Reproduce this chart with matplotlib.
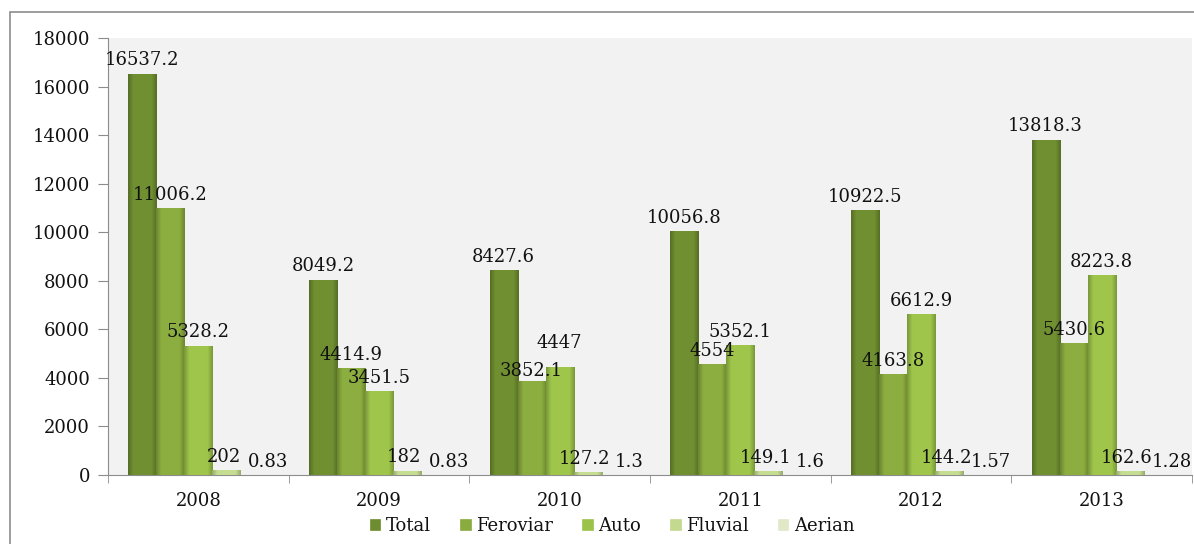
import numpy as np
import matplotlib
matplotlib.use("Agg")
import matplotlib.pyplot as plt
from matplotlib.colors import to_rgb
from matplotlib.patches import Rectangle

years = ["2008", "2009", "2010", "2011", "2012", "2013"]
series = ["Total", "Feroviar", "Auto", "Fluvial", "Aerian"]
total = [16537.2, 8049.2, 8427.6, 10056.8, 10922.5, 13818.3]
feroviar = [11006.2, 4414.9, 3852.1, 4554, 4163.8, 5430.6]
auto = [5328.2, 3451.5, 4447, 5352.1, 6612.9, 8223.8]
fluvial = [202, 182, 127.2, 149.1, 144.2, 162.6]
aerian = [0.83, 0.83, 1.3, 1.6, 1.57, 1.28]
labels = ["16537.2", "8049.2", "8427.6", "10056.8", "10922.5", "13818.3"], \
         ["11006.2", "4414.9", "3852.1", "4554", "4163.8", "5430.6"], \
         ["5328.2", "3451.5", "4447", "5352.1", "6612.9", "8223.8"], \
         ["202", "182", "127.2", "149.1", "144.2", "162.6"], \
         ["0.83", "0.83", "1.3", "1.6", "1.57", "1.28"]

colors = ["#6e8d30", "#8aab3f", "#9cc24a", "#c2d98e", "#dfe9c8"]
label_dx = [0, 0, 0, -2, 10]
# the 2010 Auto label is pushed up a bit so it clears the Feroviar one
label_dy = {(2, 2): 8, (1, 2): -2}

plt.rcParams['font.family'] = ['DejaVu Serif']

fig = plt.figure(figsize=(11.94, 5.44), dpi=100)
fig.patches.append(Rectangle((10 / 1194, -0.1), 1.2, 1.1 - 12 / 544,
                             transform=fig.transFigure, fill=False,
                             edgecolor="#8c8c8c", linewidth=1.2))
ax = fig.add_axes([108 / 1194, 69 / 544, 1084 / 1194, 437 / 544])
ax.set_facecolor("#f2f2f2")


def gradient_bar(ax, bar, color):
    # flat fill with darker edges on both sides, like the excel bevel
    c = np.array(to_rgb(color))
    t = np.linspace(0, 1, 64)
    edge = np.minimum(t, 1 - t)
    shade = 0.78 + 0.24 * np.clip(edge / 0.18, 0, 1)
    row = np.clip(c[None, :] * shade[:, None], 0, 1)
    img = np.repeat(row[None, :, :], 2, axis=0)
    x0, y0 = bar.get_x(), bar.get_y()
    w, h = bar.get_width(), bar.get_height()
    im = ax.imshow(img, extent=[x0, x0 + w, y0, y0 + h], aspect="auto",
                   origin="lower", zorder=3, interpolation="bilinear")
    im.set_clip_path(bar)


x = np.arange(len(years))
w = 0.155
data = [total, feroviar, auto, fluvial, aerian]
for i, (name, vals) in enumerate(zip(series, data)):
    bars = ax.bar(x + (i - 2) * w, vals, w, color=colors[i], label=name,
                  edgecolor=colors[i], linewidth=0.5, zorder=2)
    for j, (b, lab) in enumerate(zip(bars, labels[i])):
        gradient_bar(ax, b, colors[i])
        ax.annotate(lab, (b.get_x() + b.get_width() / 2, b.get_height()),
                    xytext=(label_dx[i], 3 + label_dy.get((i, j), 0)),
                    textcoords="offset points",
                    ha="center", va="bottom", fontsize=13, color="#111111",
                    zorder=5)

ax.set_xlim(-0.5, len(years) - 0.5)
ax.set_ylim(0, 18000)
ax.set_yticks(range(0, 18001, 2000))
ax.set_xticks(x)
ax.set_xticklabels(years, fontsize=13)
ax.set_xticks(np.arange(-0.5, len(years)), minor=True)
ax.tick_params(axis="x", which="major", length=0, pad=12, labelcolor="#111111")
ax.tick_params(axis="x", which="minor", length=6, color="#8c8c8c")
ax.tick_params(axis="y", length=7, color="#8c8c8c", labelsize=13, pad=6,
               labelcolor="#111111")
for s in ["top", "right"]:
    ax.spines[s].set_visible(False)
for s in ["left", "bottom"]:
    ax.spines[s].set_color("#8c8c8c")

leg = fig.legend(loc="center", bbox_to_anchor=(612 / 1194, 1 - 526 / 544), ncol=5,
                 frameon=False, fontsize=13, handlelength=0.6, handleheight=0.6,
                 handletextpad=0.3, columnspacing=1.6, labelcolor="#111111")

fig.savefig("out.png", dpi=100)
